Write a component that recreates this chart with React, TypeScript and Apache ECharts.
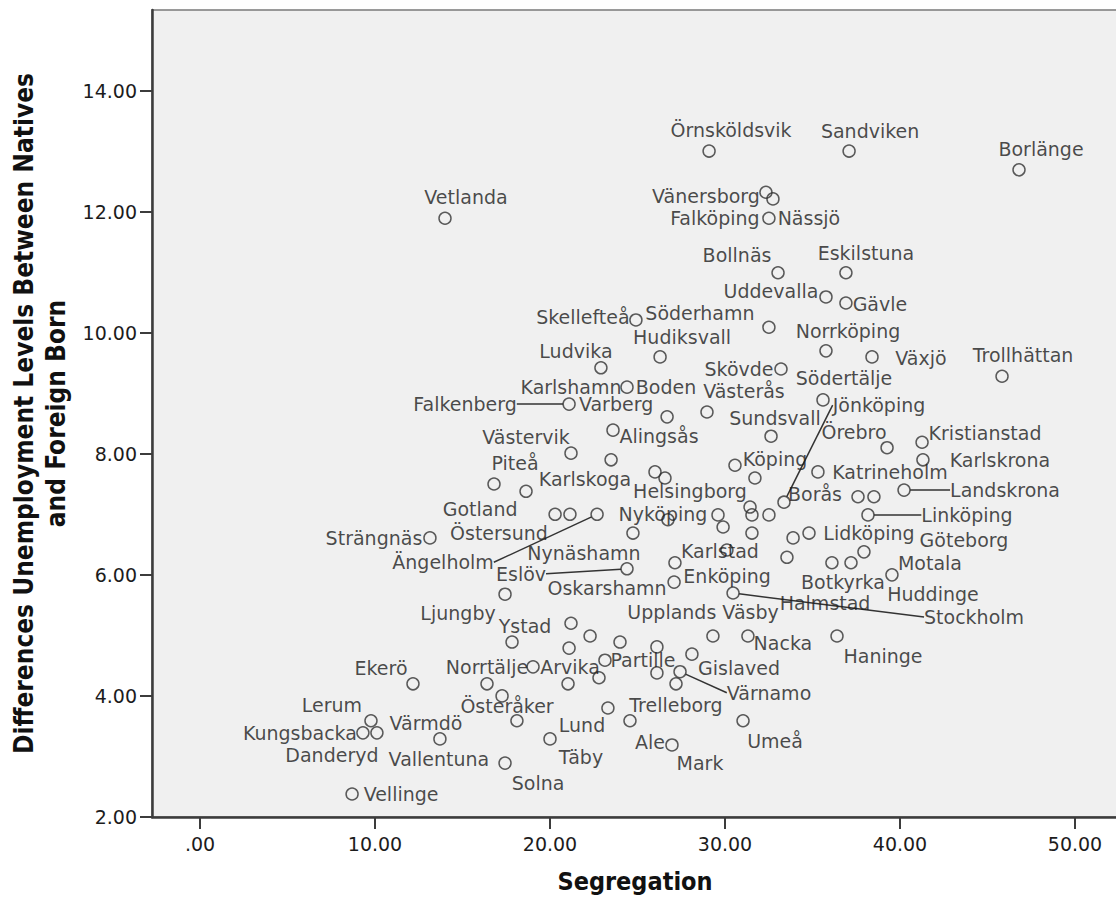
import React, { useEffect, useRef } from 'react';
import * as echarts from 'echarts';

// ---- data ----
const municipalities: string[] = [
  'Örnsköldsvik', 'Sandviken', 'Borlänge', 'Vetlanda', 'Vänersborg', '', 'Falköping', 'Nässjö',
  'Bollnäs', 'Eskilstuna', 'Uddevalla', 'Gävle', 'Skellefteå', 'Söderhamn', '', 'Hudiksvall',
  'Norrköping', 'Växjö', 'Ludvika', 'Skövde', 'Trollhättan', 'Karlshamn', 'Boden', 'Västerås',
  '', 'Södertälje', 'Falkenberg', 'Varberg', 'Alingsås', 'Sundsvall', 'Kristianstad', 'Örebro',
  'Västervik', '', 'Karlskrona', 'Katrineholm', 'Köping', '', 'Helsingborg', '',
  'Piteå', 'Karlskoga', 'Landskrona', '', '', 'Borås', 'Jönköping', '',
  '', '', 'Gotland', 'Östersund', 'Ängelholm', 'Nyköping', '', '',
  'Strängnäs', 'Nynäshamn', '', 'Linköping', 'Göteborg', 'Lidköping', '', 'Karlstad',
  '', '', 'Botkyrka', '', 'Motala', 'Huddinge', 'Eslöv', '',
  'Enköping', 'Oskarshamn', 'Stockholm', 'Halmstad', 'Upplands Väsby', 'Ljungby', '', '',
  '', '', '', '', '', '', '', '',
  '', '', '', 'Ystad', 'Nacka', 'Haninge', 'Partille', 'Norrtälje',
  'Arvika', 'Gislaved', 'Värnamo', 'Ekerö', 'Österåker', 'Trelleborg', 'Ale', 'Lerum',
  'Värmdö', 'Vallentuna', 'Kungsbacka', 'Danderyd', 'Lund', 'Täby', 'Umeå', 'Mark',
  'Solna', 'Vellinge',
];

const segregation: number[] = [
  29.09, 37.09, 46.8, 14.0, 32.34, 32.74, 32.51, 32.51,
  33.03, 36.91, 35.77, 36.91, 24.91, 24.91, 32.51, 26.29,
  35.77, 38.4, 22.91, 33.2, 45.83, 24.4, 24.4, 28.97,
  26.69, 35.6, 21.09, 21.09, 23.6, 32.63, 41.26, 39.26,
  21.2, 23.49, 41.31, 35.31, 30.57, 26.0, 26.57, 31.71,
  16.8, 18.63, 40.23, 37.6, 38.51, 33.37, 33.37, 31.43,
  31.54, 32.51, 20.29, 21.14, 22.69, 26.74, 29.6, 29.89,
  13.14, 24.74, 31.54, 38.17, 38.17, 34.8, 33.89, 30.11,
  33.54, 37.94, 36.11, 37.2, 39.54, 39.54, 24.4, 27.14,
  27.09, 27.09, 30.46, 30.46, 30.46, 17.43, 21.2, 22.29,
  24.0, 21.09, 26.11, 26.11, 28.11, 29.31, 22.8, 21.03,
  16.4, 27.2, 18.11, 17.83, 31.31, 36.4, 23.14, 19.03,
  19.03, 27.43, 27.43, 12.17, 17.26, 23.31, 24.57, 9.77,
  13.71, 13.71, 9.31, 10.11, 20.0, 20.0, 31.03, 26.97,
  17.43, 8.69,
];

const unemploymentGap: number[] = [
  13.0, 13.0, 12.69, 11.89, 12.32, 12.21, 11.89, 11.89,
  10.99, 10.99, 10.59, 10.49, 10.21, 10.21, 10.09, 9.6,
  9.7, 9.6, 9.42, 9.4, 9.28, 9.1, 9.1, 8.69,
  8.61, 8.89, 8.82, 8.82, 8.39, 8.29, 8.19, 8.1,
  8.01, 7.9, 7.9, 7.7, 7.81, 7.7, 7.6, 7.6,
  7.5, 7.38, 7.4, 7.29, 7.29, 7.2, 7.2, 7.12,
  6.99, 6.99, 7.0, 7.0, 7.0, 6.91, 6.99, 6.79,
  6.61, 6.69, 6.69, 6.99, 6.99, 6.69, 6.61, 6.41,
  6.29, 6.38, 6.2, 6.2, 6.0, 6.0, 6.1, 6.2,
  5.88, 5.88, 5.7, 5.7, 5.7, 5.68, 5.2, 4.99,
  4.89, 4.79, 4.81, 4.38, 4.69, 4.99, 4.3, 4.2,
  4.2, 4.2, 3.59, 4.89, 4.99, 4.99, 4.59, 4.48,
  4.48, 4.4, 4.4, 4.2, 4.0, 3.8, 3.59, 3.59,
  3.29, 3.29, 3.39, 3.39, 3.29, 3.29, 3.59, 3.19,
  2.89, 2.38,
];

const xTicks: number[] = [0, 10, 20, 30, 40, 50];
const yTicks: number[] = [2, 4, 6, 8, 10, 12, 14];

// ---- label placement (pixel offsets of the label centre from its marker) ----
const labelOffsets: Record<string, [number, number]> = {
  'Örnsköldsvik': [22, -21], Sandviken: [21, -20], 'Borlänge': [22, -21], Vetlanda: [21, -21],
  'Vänersborg': [-60, 4], 'Falköping': [-54, 0], 'Nässjö': [40, 0], 'Bollnäs': [-41, -18],
  Eskilstuna: [20, -20], Uddevalla: [-55, -6], 'Gävle': [34, 1], 'Skellefteå': [-53, -3],
  'Söderhamn': [64, -7], Hudiksvall: [22, -20], 'Norrköping': [22, -20], 'Växjö': [49, 1],
  Ludvika: [-25, -17], 'Skövde': [-42, 0], 'Trollhättan': [21, -21], Karlshamn: [-56, 0],
  Boden: [39, 0], 'Västerås': [37, -21], 'Södertälje': [21, -22], Falkenberg: [-104, 0],
  Varberg: [47, 0], 'Alingsås': [46, 6], Sundsvall: [4, -18], Kristianstad: [63, -9],
  'Örebro': [-33, -16], 'Västervik': [-45, -16], Karlskrona: [77, 0], Katrineholm: [72, 0],
  'Köping': [40, -6], Helsingborg: [25, 13], 'Piteå': [21, -21], Karlskoga: [59, -12],
  Landskrona: [101, 0], 'Borås': [31, -8], 'Jönköping': [95, -97], Gotland: [-75, -5],
  'Östersund': [-71, 19], 'Ängelholm': [-154, 48], 'Nyköping': [-5, -6], 'Strängnäs': [-56, 0],
  'Nynäshamn': [-49, 20], 'Linköping': [99, 0], 'Göteborg': [96, 25], 'Lidköping': [60, 0],
  Karlstad: [-7, 1], Botkyrka: [11, 19], Motala: [38, -12], Huddinge: [41, 19],
  'Eslöv': [-106, 5], 'Enköping': [53, -6], Oskarshamn: [-67, 6], Stockholm: [241, 24],
  Halmstad: [92, 10], 'Upplands Väsby': [-30, 19], Ljungby: [-47, 19], Ystad: [13, -16],
  Nacka: [35, 7], Haninge: [46, 20], Partille: [38, 0], 'Norrtälje': [-46, 0],
  Arvika: [37, 0], Gislaved: [59, -4], 'Värnamo': [89, 21], 'Ekerö': [-32, -16],
  'Österåker': [5, 10], Trelleborg: [68, -3], Ale: [20, 21], Lerum: [-39, -16],
  'Värmdö': [-14, -16], Vallentuna: [-1, 20], Kungsbacka: [-63, 0], Danderyd: [-45, 22],
  Lund: [32, -14], 'Täby': [31, 18], 'Umeå': [32, 20], Mark: [28, 18],
  Solna: [33, 20], Vellinge: [49, 0],
};
const withLeaderLine = new Set<string>([
  'Falkenberg', 'Landskrona', 'Jönköping', 'Ängelholm', 'Linköping', 'Eslöv', 'Stockholm', 'Värnamo',
]);

const LABEL_FONT = "'DejaVu Sans', 'Lucida Grande', sans-serif";
const TITLE_FONT = "'Liberation Sans Narrow', 'DejaVu Sans Condensed', 'DejaVu Sans', sans-serif";
const TEXT_COLOR = '#1c1c1c';
const MARK_COLOR = '#333333';

export default function App() {
  const ref = useRef<HTMLDivElement>(null);

  useEffect(() => {
    document.body.style.margin = '0';
    const chart = echarts.init(ref.current as HTMLDivElement, undefined, { renderer: 'svg' });

    const seen = new Set<string>();
    const points = segregation.map((x, i) => {
      const name = municipalities[i];
      const key = x + '|' + unemploymentGap[i];
      const duplicate = seen.has(key);
      seen.add(key);
      return {
        name,
        value: [x, unemploymentGap[i]],
        // a marker lying exactly on an earlier one is drawn only once
        itemStyle: duplicate ? { borderColor: 'rgba(0,0,0,0)' } : undefined,
        label: { show: name !== '', offset: labelOffsets[name] || [0, 0] },
        labelLine: { show: withLeaderLine.has(name) },
      };
    });

    chart.setOption({
      animation: false,
      backgroundColor: '#ffffff',
      grid: {
        left: 152,
        top: 10,
        width: 966,
        height: 807,
        outerBoundsMode: 'none',
        containLabel: false,
        show: true,
        backgroundColor: '#f0f0f0',
        borderColor: '#7a7a7a',
        borderWidth: 1.5,
      },
      xAxis: {
        type: 'value',
        min: -2.743,
        max: 52.457,
        name: 'Segregation',
        nameLocation: 'middle',
        nameGap: 52,
        nameTextStyle: { fontFamily: TITLE_FONT, fontWeight: 'bold', fontSize: 25, color: '#111' },
        splitLine: { show: false },
        axisLine: { show: true, onZero: false, lineStyle: { color: '#3c3c3c', width: 2.5 } },
        axisTick: { show: true, customValues: xTicks, length: 12, lineStyle: { color: '#3c3c3c', width: 2 } },
        axisLabel: {
          customValues: xTicks,
          margin: 17,
          fontFamily: LABEL_FONT,
          fontSize: 19,
          color: TEXT_COLOR,
          formatter: (v: number) => (v === 0 ? '.00' : v.toFixed(2)),
        },
      },
      yAxis: {
        type: 'value',
        min: 2,
        max: 15.33,
        name: 'Differences Unemployment Levels Between Natives\nand Foreign Born',
        nameLocation: 'middle',
        nameRotate: 90,
        nameGap: 78,
        nameTextStyle: {
          fontFamily: TITLE_FONT, fontWeight: 'bold', fontSize: 26, lineHeight: 32, color: '#111', align: 'center',
        },
        splitLine: { show: false },
        axisLine: { show: true, onZero: false, lineStyle: { color: '#3c3c3c', width: 2.5 } },
        axisTick: { show: true, customValues: yTicks, length: 12, lineStyle: { color: '#3c3c3c', width: 2 } },
        axisLabel: {
          customValues: yTicks,
          margin: 15,
          fontFamily: LABEL_FONT,
          fontSize: 19,
          color: TEXT_COLOR,
          formatter: (v: number) => v.toFixed(2),
        },
      },
      series: [
        {
          type: 'scatter',
          symbol: 'circle',
          symbolSize: 12,
          itemStyle: { color: 'rgba(0,0,0,0)', borderColor: MARK_COLOR, borderWidth: 1.5 },
          emphasis: { disabled: true },
          label: {
            show: true,
            position: 'inside',
            formatter: '{b}',
            fontFamily: LABEL_FONT,
            fontSize: 19,
            color: TEXT_COLOR,
            align: 'center',
            verticalAlign: 'middle',
            textBorderWidth: 0,
          },
          labelLine: { show: false, lineStyle: { color: MARK_COLOR, width: 1.5 } },
          data: points,
        },
      ],
    });

    return () => chart.dispose();
  }, []);

  return <div ref={ref} style={{ width: 1116, height: 899 }} />;
}
